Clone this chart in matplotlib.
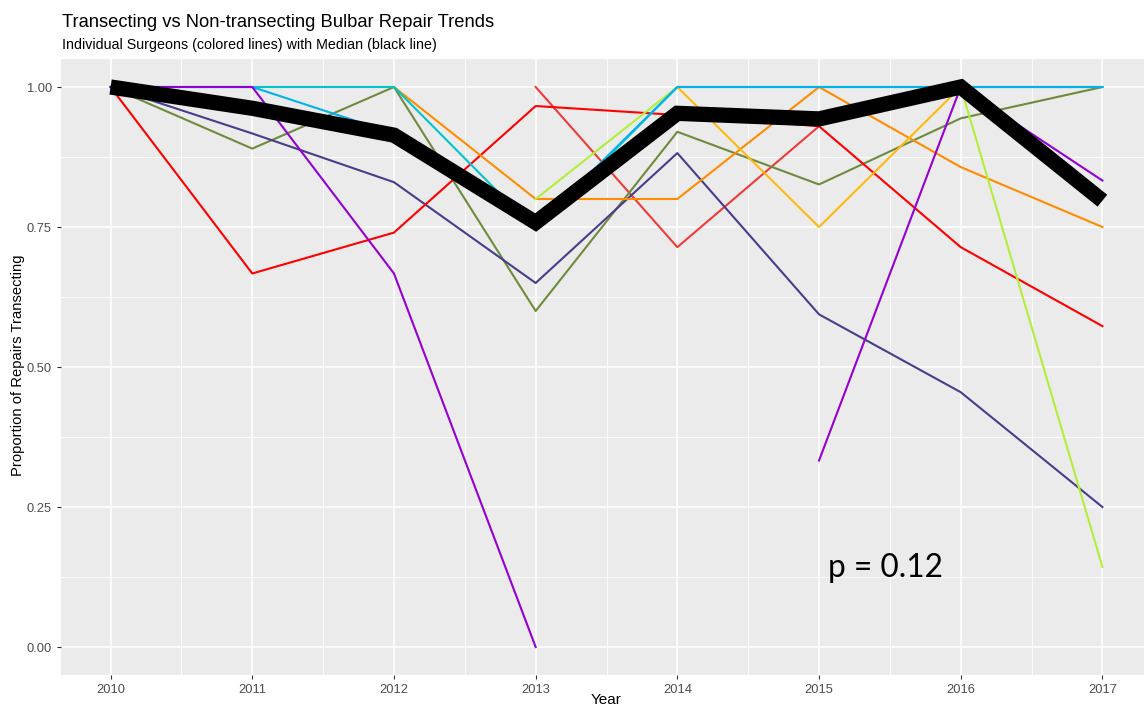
import numpy as np
import matplotlib
matplotlib.use("Agg")
import matplotlib.pyplot as plt

nan = np.nan
years = [2010, 2011, 2012, 2013, 2014, 2015, 2016, 2017]

# Individual surgeons (proportion transecting per year)
surgeon_red_b = [nan, nan, nan, 1.00, 0.714, 0.93, nan, nan]
surgeon_olive = [1.00, 0.89, 1.00, 0.60, 0.92, 0.826, 0.944, 1.00]
surgeon_slate = [1.00, 0.917, 0.83, 0.65, 0.882, 0.594, 0.455, 0.25]
surgeon_red = [1.00, 0.667, 0.74, 0.966, 0.95, 0.93, 0.714, 0.573]
surgeon_orange = [nan, nan, 1.00, 0.80, 0.80, 1.00, 0.857, 0.75]
surgeon_gold = [nan, nan, nan, nan, 1.00, 0.75, 1.00, 1.00]
surgeon_lime = [nan, nan, nan, 0.80, 1.00, 1.00, 1.00, 0.143]
surgeon_cyan = [1.00, 1.00, 1.00, 0.745, 1.00, 1.00, 1.00, 1.00]
surgeon_sky = [1.00, 1.00, 0.917, 0.75, 1.00, 1.00, 1.00, 1.00]
surgeon_purple = [1.00, 1.00, 0.667, 0.00, nan, 0.333, 1.00, 0.833]

median = [1.00, 0.962, 0.914, 0.758, 0.953, 0.943, 1.00, 0.797]

series = [
    (surgeon_red_b, "#EE3B3B"),
    (surgeon_olive, "#6E8B3D"),
    (surgeon_slate, "#483D8B"),
    (surgeon_red, "#FF0000"),
    (surgeon_orange, "#FF8C00"),
    (surgeon_gold, "#FFB90F"),
    (surgeon_lime, "#B3EE3A"),
    (surgeon_cyan, "#00C5CD"),
    (surgeon_sky, "#00B2EE"),
    (surgeon_purple, "#9400D3"),
]

W, H = 1144, 709
fig = plt.figure(figsize=(W / 100, H / 100), dpi=100)
fig.patch.set_facecolor("white")

left, right, top, bottom = 61, 1152, 59, 675
ax = fig.add_axes([left / W, 1 - bottom / H, (right - left) / W, (bottom - top) / H])
ax.set_facecolor("#EBEBEB")
for s in ax.spines.values():
    s.set_visible(False)

ax.set_xticks(years)
ax.set_xticks([y + 0.5 for y in years[:-1]], minor=True)
yt = [0.0, 0.25, 0.5, 0.75, 1.0]
ax.set_yticks(yt)
ax.set_yticks([0.125, 0.375, 0.625, 0.875], minor=True)
ax.set_xlim(2009.65, 2017.35)
ax.set_ylim(-0.05, 1.05)
ax.grid(which="major", color="white", linewidth=1.1)
ax.grid(which="minor", color="white", linewidth=0.55)
ax.set_axisbelow(True)

tickfont = ["Liberation Sans Narrow", "Liberation Sans", "DejaVu Sans"]
ax.set_xticklabels([str(y) for y in years], family=tickfont, fontsize=9.3, color="#4D4D4D")
ax.set_yticklabels(["0.00", "0.25", "0.50", "0.75", "1.00"], family=tickfont, fontsize=9.3, color="#4D4D4D")
ax.tick_params(which="major", length=3, width=0.8, color="#333333", pad=3.5)
ax.tick_params(which="minor", length=0)

for vals, col in series:
    ax.plot(years, vals, color=col, linewidth=1.5, solid_joinstyle="round")

ax.plot(years, median, color="black", linewidth=11, solid_joinstyle="miter", solid_capstyle="butt")

ax.text(2015.06, 0.125, "p = 0.12", fontsize=22.8, family=["Lato", "Open Sans", "DejaVu Sans"], color="black")

fig.text(62 / W, 1 - 27 / H, "Transecting vs Non-transecting Bulbar Repair Trends",
         family=["Liberation Sans", "DejaVu Sans"], fontsize=13.2, color="black", va="baseline")
fig.text(62 / W, 1 - 49 / H, "Individual Surgeons (colored lines) with Median (black line)",
         family=["Liberation Sans", "DejaVu Sans"], fontsize=10.3, color="black", va="baseline")
fig.text(18 / W, 1 - 365 / H, "Proportion of Repairs Transecting", rotation=90,
         family=["Liberation Sans", "DejaVu Sans"], fontsize=10.6, color="black", va="center", ha="center")
fig.text(606 / W, 1 - 707 / H, "Year", family=["Liberation Sans", "DejaVu Sans"], fontsize=11,
         color="black", va="bottom", ha="center")

fig.savefig("out.png", dpi=100)
